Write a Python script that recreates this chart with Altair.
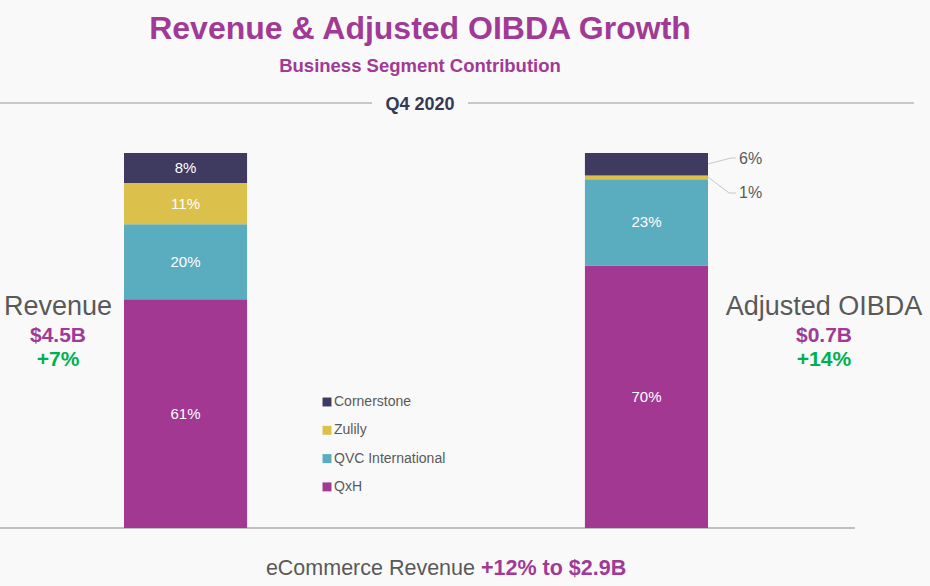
import altair as alt
import pandas as pd

# ---- data ----
metrics = ["Revenue", "Adjusted OIBDA"]
segments = ["QxH", "QVC International", "Zulily", "Cornerstone"]  # bottom -> top
revenue_share = [61, 20, 11, 8]
oibda_share = [70, 23, 1, 6]
legend_order = ["Cornerstone", "Zulily", "QVC International", "QxH"]
seg_colors = ["#3f3a5f", "#dbc14b", "#5aacbf", "#a23892"]

rows = []
for m, vals in zip(metrics, [revenue_share, oibda_share]):
    for i, (s, v) in enumerate(zip(segments, vals)):
        rows.append({"metric": m, "segment": s, "value": v, "order": i, "label": f"{v}%"})
df = pd.DataFrame(rows)

PURPLE = "#a03a96"
GREEN = "#00b050"
GRAY = "#595959"
FONT = "Liberation Sans"

W, H = 930, 586

xscale = alt.Scale(domain=metrics, range=[124, 708], paddingInner=0.733, paddingOuter=0)
yscale = alt.Scale(domain=[-15.467, 140.8], nice=False, zero=False)

base = alt.Chart(df)

bars = base.mark_bar().encode(
    x=alt.X("metric:N", scale=xscale, axis=None),
    y=alt.Y("value:Q", stack="zero", scale=yscale, axis=None),
    color=alt.Color(
        "segment:N",
        scale=alt.Scale(domain=legend_order, range=seg_colors),
        legend=alt.Legend(
            title=None, orient="none", legendX=320, legendY=395,
            symbolType="square", symbolSize=80, symbolStrokeWidth=0,
            labelFontSize=14, labelColor=GRAY, labelFont=FONT,
            rowPadding=14.3, labelOffset=0, padding=0,
        ),
    ),
    order=alt.Order("order:Q", sort="ascending"),
)

stacked = base.transform_stack(
    stack="value", groupby=["metric"], sort=[alt.SortField("order", "ascending")],
    as_=["v0", "v1"],
).transform_calculate(mid="(datum.v0 + datum.v1) / 2")

inside = stacked.transform_filter("datum.value >= 8").mark_text(
    color="white", fontSize=15, font=FONT, baseline="middle"
).encode(
    x=alt.X("metric:N", scale=xscale, axis=None, bandPosition=0.5),
    y=alt.Y("mid:Q", scale=yscale, axis=None),
    text="label:N",
)

lab6 = base.transform_filter(
    "datum.metric == 'Adjusted OIBDA' && datum.segment == 'Cornerstone'"
).mark_text(color=GRAY, fontSize=16, font=FONT, align="left", baseline="middle").encode(
    x=alt.value(739), y=alt.value(159), text="label:N")
lab1 = base.transform_filter(
    "datum.metric == 'Adjusted OIBDA' && datum.segment == 'Zulily'"
).mark_text(color=GRAY, fontSize=16, font=FONT, align="left", baseline="middle").encode(
    x=alt.value(739), y=alt.value(193), text="label:N")

LINE = "#c8c8c8"
def rule(x1, y1, x2, y2, color=LINE, w=1):
    return alt.Chart(pd.DataFrame({"a": [0]})).mark_rule(color=color, strokeWidth=w).encode(
        x=alt.value(x1), y=alt.value(y1), x2=alt.value(x2), y2=alt.value(y2))

leaders = [
    rule(708, 164, 731, 158), rule(731, 158, 736, 158),
    rule(708, 177, 729, 193), rule(729, 193, 736, 193),
]
rules = [
    rule(0, 103, 372, 103, "#c8c8c8", 2),
    rule(468, 103, 914, 103, "#c8c8c8", 2),
    rule(0, 528, 855, 528, "#bfbfbf", 2),
]

def txt(s, x, y, size, color, weight="normal", align="center"):
    return alt.Chart(pd.DataFrame({"t": [s]})).mark_text(
        fontSize=size, color=color, fontWeight=weight, font=FONT, align=align,
        baseline="alphabetic",
    ).encode(x=alt.value(x), y=alt.value(y), text="t:N")

texts = [
    txt("Revenue & Adjusted OIBDA Growth", 420, 39, 32, PURPLE, "bold"),
    txt("Business Segment Contribution", 420, 72, 18.5, PURPLE, "bold"),
    txt("Q4 2020", 420, 110, 18, "#333a56", "bold"),
    txt("Revenue", 58, 315, 27, GRAY),
    txt("$4.5B", 58, 342, 21, PURPLE, "bold"),
    txt("+7%", 58, 366, 21, GREEN, "bold"),
    txt("Adjusted OIBDA", 824, 315, 27, GRAY),
    txt("$0.7B", 824, 342, 21, PURPLE, "bold"),
    txt("+14%", 824, 366, 21, GREEN, "bold"),
    txt("eCommerce Revenue", 475, 575, 21.5, GRAY, "normal", "right"),
    txt("+12% to $2.9B", 481, 575, 21.5, PURPLE, "bold", "left"),
]

chart = alt.layer(
    *rules, bars, inside, lab6, lab1, *leaders, *texts
).properties(
    width=W, height=H, padding=0, autosize=alt.AutoSizeParams(type="none"),
    background="#f9f9f9",
).configure_view(stroke=None)

chart.save("out.html", embed_options={"renderer": "svg", "actions": False})
